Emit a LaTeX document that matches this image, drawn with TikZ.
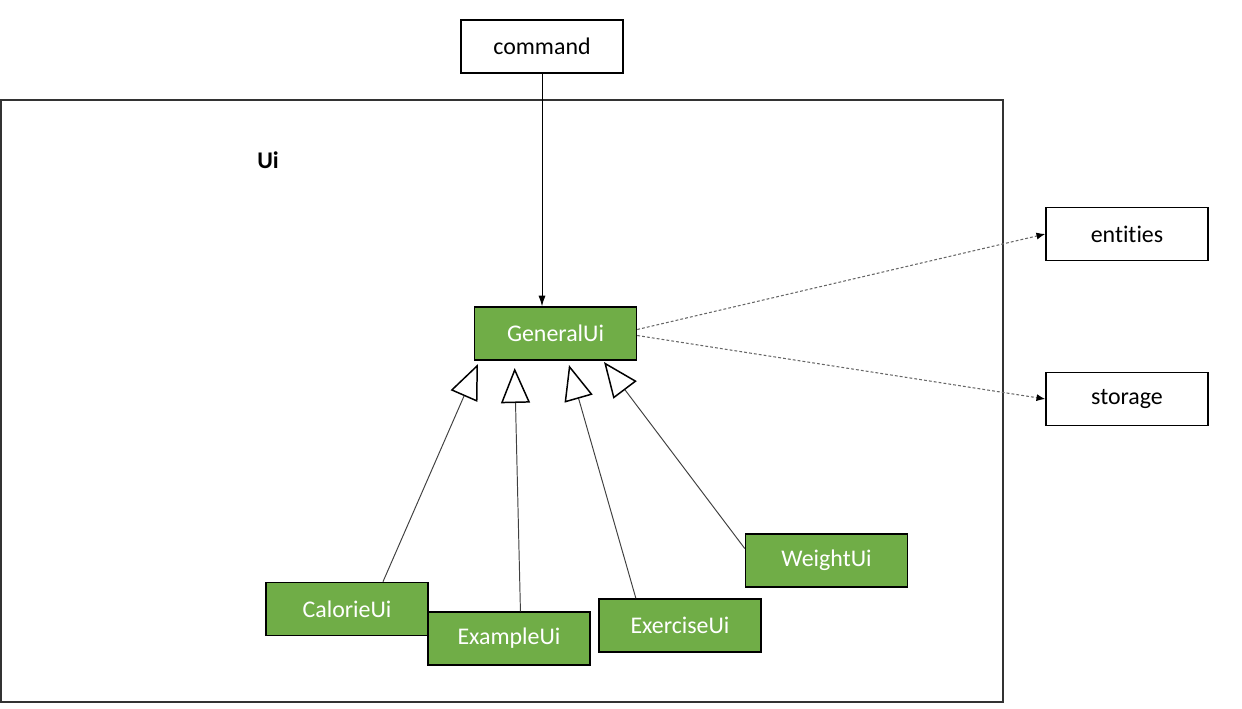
\documentclass[tikz,border=0pt]{standalone}
\usepackage{fontspec}
\setmainfont[Ligatures={NoCommon,NoRare}]{Carlito}
\usetikzlibrary{arrows,arrows.meta,calc,positioning}
\definecolor{uigreen}{HTML}{70AD47}

\begin{document}
\begin{tikzpicture}[x=0.02cm,y=-0.02cm,
	box/.style={draw=black,line width=0.85pt,minimum width=3.24cm,minimum height=1.06cm,
		inner sep=0pt,font=\fontsize{13.6}{16}\selectfont},
	uibox/.style={box,fill=uigreen,text=white},
	inherit/.style={draw=black!75,line width=0.55pt,
		-{Triangle[open,length=0.7cm,width=0.58cm,line width=0.85pt,color=black]}},
	depends/.style={draw=black!60,line width=0.6pt,dash pattern=on 1.6pt off 1.2pt,
		-{Latex[length=5pt,width=4pt,color=black]}}]
% picture size
\useasboundingbox (0,0) rectangle (1242,708);
%
% package frame
% left up corner
\coordinate (lupcorner) at (1,100);
% right low corner
\coordinate (rlowcorner) at (1003,702);
\draw [line width=1.1pt,draw=black!80] (lupcorner) rectangle (rlowcorner);
\node [font=\bfseries\fontsize{13.6}{16}\selectfont] (uilabel) at (268,160) {Ui};
%
% outside packages
\node [box] (command) at (542,46.5) {command};
\node [box] (entities) at (1127,234) {entities};
\node [box] (storage) at (1127,399) {storage};
%
% ui classes
\node [uibox] (general) at (555.5,333.5) {GeneralUi};
\node [uibox] (calorie) at (347,609) {CalorieUi};
\node [uibox] (example) at (509,638.5) {ExampleUi};
\node [uibox] (exercise) at (680,625.5) {ExerciseUi};
\node [uibox] (weight) at (826.5,560.5) {WeightUi};
%
% command uses general ui
\draw [line width=0.55pt,-{Latex[length=6pt,width=4pt]}] (command.south) -- (command.south |- general.north);
%
% dependencies
\draw [depends] ($(general.east)+(0,-4)$) -- (entities.west);
\draw [depends] ($(general.east)+(0,2)$) -- (storage.west);
%
% inheritance
% triangle tips
\coordinate (calorietip) at (478,364);
\coordinate (exampletip) at (514.7,368);
\coordinate (exercisetip) at (569,365);
\coordinate (weighttip) at (604,362);
\draw [inherit] ($(calorie.north west)!0.72!(calorie.north east)$) -- (calorietip);
\draw [inherit] ($(example.north west)!0.57!(example.north east)$) -- (exampletip);
\draw [inherit] ($(exercise.north west)!0.23!(exercise.north east)$) -- (exercisetip);
\draw [inherit] ($(weight.north west)!0.28!(weight.south west)$) -- (weighttip);
\end{tikzpicture}
\end{document}
